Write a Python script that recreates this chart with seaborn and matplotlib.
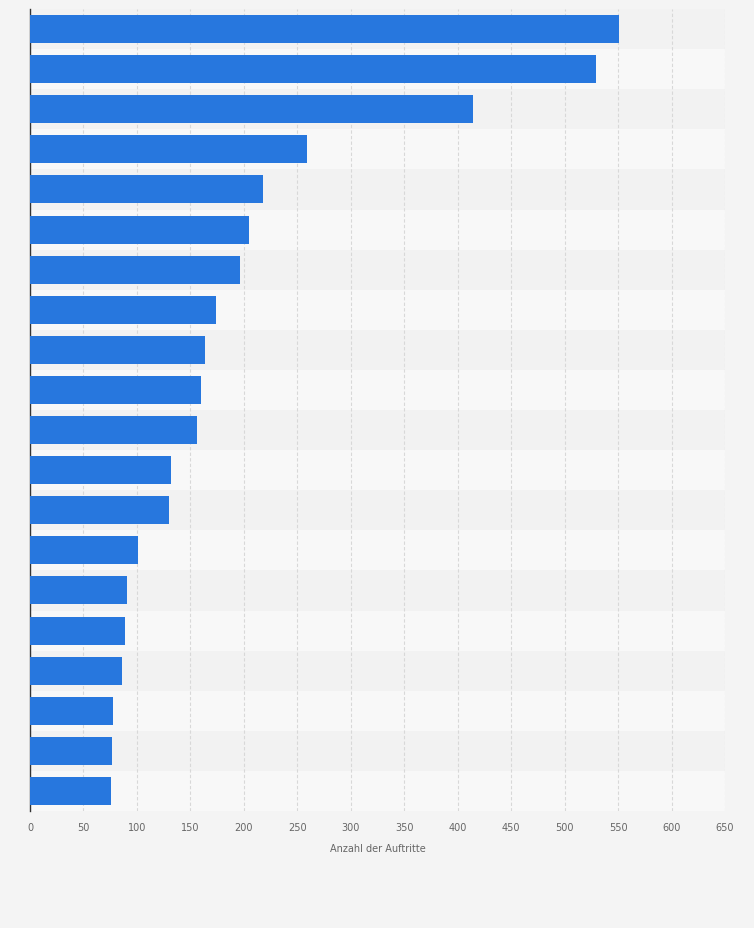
import matplotlib
matplotlib.use("Agg")
import matplotlib.pyplot as plt
import seaborn as sns
import pandas as pd

categories = [f"Rang {i}" for i in range(1, 21)]
values = [551, 529, 414, 259, 218, 205, 196, 174, 164, 160, 156, 132, 130, 101, 91, 89, 86, 78, 77, 76]
xticks = list(range(0, 651, 50))

df = pd.DataFrame({"cat": categories, "val": values})

fig = plt.figure(figsize=(7.54, 9.29), dpi=100)
fig.patch.set_facecolor("#f4f4f4")
ax = fig.add_axes([30/754, 1-812/929, 695/754, 802/929])
ax.set_facecolor("#f4f4f4")
for i in range(len(categories)):
    ax.axhspan(i-0.5, i+0.5, color="#f2f2f2" if i % 2 == 0 else "#f8f8f8", zorder=0, lw=0)
sns.barplot(data=df, x="val", y="cat", color="#2777de", width=0.7, ax=ax, zorder=3, saturation=1)
ax.set_xlim(0, 650)
ax.set_ylim(len(categories)-0.5, -0.5)
ax.set_xticks(xticks)
ax.set_xticklabels([str(t) for t in xticks], fontsize=7, color="#666666")
ax.set_yticks([])
ax.set_ylabel("")
ax.set_xlabel("Anzahl der Auftritte", fontsize=7, color="#666666", labelpad=8)
ax.grid(axis="x", color="#d8d8d8", linestyle=(0, (3, 2)), lw=0.8, zorder=1)
ax.tick_params(axis="x", length=0, pad=8)
for s in ["top", "right", "bottom"]:
    ax.spines[s].set_visible(False)
ax.spines["left"].set_color("#333333")
ax.spines["left"].set_linewidth(1)
fig.savefig("out.png", dpi=100, facecolor=fig.get_facecolor())
